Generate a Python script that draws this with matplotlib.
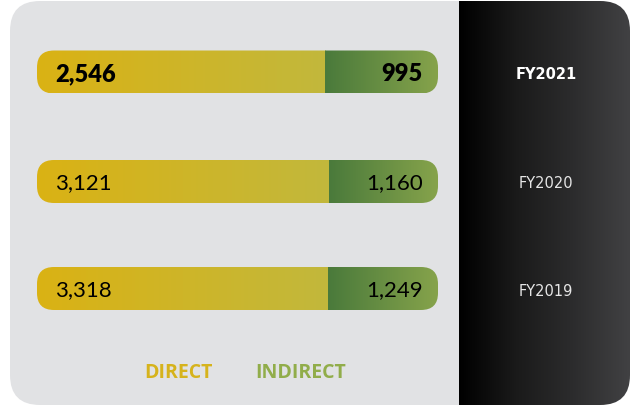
import matplotlib.pyplot as plt
import numpy as np
from matplotlib.patches import FancyBboxPatch
from matplotlib.colors import LinearSegmentedColormap

####### DATA #######

years = ['FY2021', 'FY2020', 'FY2019']
direct = [2546, 3121, 3318]
indirect = [995, 1160, 1249]

####### STYLE #######

plt.rcParams['font.family'] = ['Lato', 'DejaVu Sans']

W, H = 630, 407
card_gray = '#e1e2e4'
yellow_cmap = LinearSegmentedColormap.from_list('yel', ['#dab214', '#c2b83c'])
green_cmap = LinearSegmentedColormap.from_list('grn', ['#4a7a3b', '#86a34b'])
dark_cmap = LinearSegmentedColormap.from_list('drk', ['#000000', '#1a1a1a', '#2c2c2d', '#414143'])

bar_left, bar_right = 37, 438
bar_h = 43
row_y = [72, 181.5, 288.5]
panel_x = 459

fig = plt.figure(figsize=(W / 100, H / 100), dpi=100)
ax = fig.add_axes([0, 0, 1, 1])
ax.set_xlim(0, W)
ax.set_ylim(H, 0)
ax.axis('off')

grad = np.linspace(0, 1, 256).reshape(1, -1)

# card: gray left part, dark gradient panel on the right
card = FancyBboxPatch((10, 1), W - 10, 404, boxstyle='round,pad=0,rounding_size=30',
                      fc=card_gray, ec='none', zorder=0)
ax.add_patch(card)
im = ax.imshow(grad, cmap=dark_cmap, extent=[panel_x, W, 405, 1], aspect='auto', zorder=1)
im.set_clip_path(card)

# bars
for i, yr in enumerate(years):
    total = direct[i] + indirect[i]
    split = bar_left + (bar_right - bar_left) * direct[i] / total
    top = row_y[i] - bar_h / 2
    shape = FancyBboxPatch((bar_left, top), bar_right - bar_left, bar_h,
                           boxstyle='round,pad=0,rounding_size=17', fc='none', ec='none')
    ax.add_patch(shape)
    im1 = ax.imshow(grad, cmap=yellow_cmap, extent=[bar_left, split, top + bar_h, top],
                    aspect='auto', zorder=2)
    im1.set_clip_path(shape)
    im2 = ax.imshow(grad, cmap=green_cmap, extent=[split, bar_right, top + bar_h, top],
                    aspect='auto', zorder=2)
    im2.set_clip_path(shape)

    bold = (i == 0)
    ax.text(bar_left + 18, row_y[i], f'{direct[i]:,}', ha='left', va='center_baseline',
            fontsize=17 if bold else 16, fontweight='heavy' if bold else 'normal',
            color='black', zorder=3)
    ax.text(bar_right - 15, row_y[i], f'{indirect[i]:,}', ha='right', va='center_baseline',
            fontsize=17 if bold else 16, fontweight='heavy' if bold else 'normal',
            color='black', zorder=3)
    ax.text(546, row_y[i] + 1, yr, ha='center', va='center_baseline',
            fontsize=10.5, fontweight='bold' if bold else 'normal',
            color='white' if bold else '#e6e6e6', zorder=3,
            family='DejaVu Sans')

# legend
ax.text(178, 371, 'DIRECT', ha='center', va='center_baseline', fontsize=14,
        fontweight='bold', color='#d6b31c', family=['Open Sans', 'DejaVu Sans'])
ax.text(300.5, 371, 'INDIRECT', ha='center', va='center_baseline', fontsize=14,
        fontweight='bold', color='#91ad4a', family=['Open Sans', 'DejaVu Sans'])

fig.savefig('out.png', dpi=100)
